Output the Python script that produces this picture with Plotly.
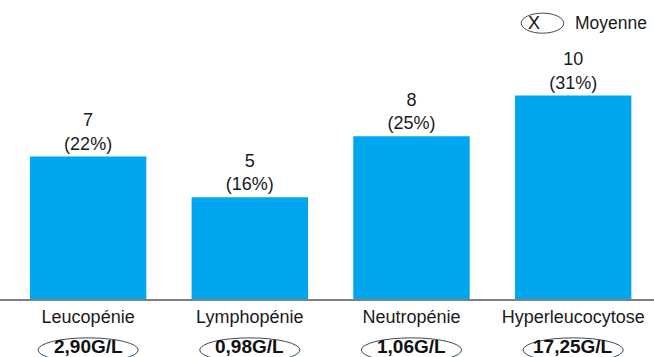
import plotly.graph_objects as go

categories = ["Leucopénie", "Lymphopénie", "Neutropénie", "Hyperleucocytose"]
counts = [7, 5, 8, 10]
percents = ["22%", "16%", "25%", "31%"]
means = ["2,90G/L", "0,98G/L", "1,06G/L", "17,25G/L"]
legend_label = "Moyenne"

FONT = "Liberation Sans, Arial, sans-serif"
BAR_COLOR = "#00A6EE"

fig = go.Figure()
fig.add_trace(go.Bar(
    x=list(range(len(categories))),
    y=counts,
    width=0.72,
    marker=dict(color=BAR_COLOR, line=dict(width=0)),
    text=[f"{c}<br>({p})" for c, p in zip(counts, percents)],
    textposition="outside",
    textfont=dict(family=FONT, size=18, color="#1a1a1a"),
    cliponaxis=False,
    showlegend=False,
    hoverinfo="skip",
))

shapes = []
annotations = []
for i, m in enumerate(means):
    shapes.append(dict(type="circle", xref="x", yref="paper",
                       x0=i - 0.31, x1=i + 0.31, y0=-0.211, y1=-0.130,
                       line=dict(color="#3a4a5c", width=1)))
    annotations.append(dict(x=i, y=-0.158, xref="x", yref="paper",
                            text=f"<b>{m}</b>", showarrow=False,
                            yanchor="middle",
                            font=dict(family=FONT, size=19, color="#111111")))

# legend (ellipse with X + label)
shapes.append(dict(type="circle", xref="paper", yref="paper",
                   x0=0.797, x1=0.862, y0=0.889, y1=0.956,
                   line=dict(color="#3a4a5c", width=1)))
annotations.append(dict(x=0.8295, y=0.924, xref="paper", yref="paper",
                        text="X", showarrow=False, yanchor="middle",
                        font=dict(family=FONT, size=18, color="#111111")))
annotations.append(dict(x=0.876, y=0.924, xref="paper", yref="paper",
                        text=legend_label, showarrow=False, xanchor="left",
                        yanchor="middle",
                        font=dict(family=FONT, size=17.5, color="#1a1a1a")))

fig.update_layout(
    width=654, height=357,
    margin=dict(l=0, r=0, t=0, b=58),
    paper_bgcolor="white", plot_bgcolor="white",
    font=dict(family=FONT, color="#1a1a1a"),
    shapes=shapes, annotations=annotations,
    bargap=0.28,
    xaxis=dict(range=[-0.545, 3.5], tickmode="array",
               tickvals=list(range(len(categories))), ticktext=categories,
               tickfont=dict(family=FONT, size=18, color="#1a1a1a"),
               showline=True, linecolor="#808080", linewidth=1.5,
               showgrid=False, zeroline=False, ticks="",
               ticklabelstandoff=1, fixedrange=True),
    yaxis=dict(range=[0, 14.7], visible=False, showgrid=False,
               zeroline=False, fixedrange=True),
)

fig.write_html("out.html")
